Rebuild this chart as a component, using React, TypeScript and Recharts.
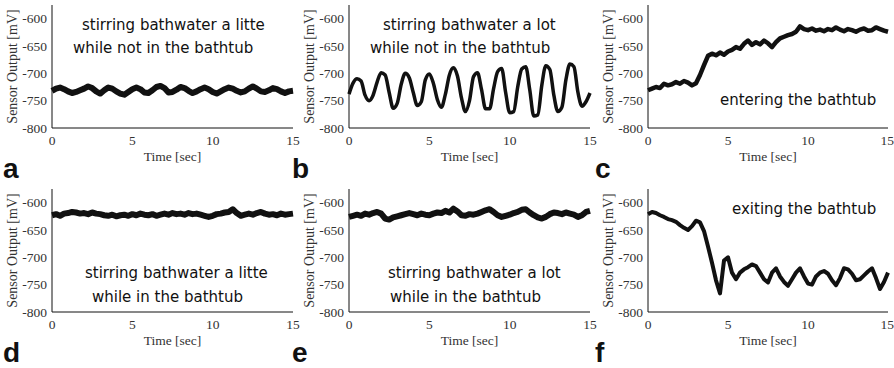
import React from 'react';
import { LineChart, Line, XAxis, YAxis } from 'recharts';

const TIME = [
  0, 0.25, 0.5, 0.75, 1, 1.25, 1.5, 1.75, 2, 2.25, 2.5, 2.75, 3, 3.25, 3.5, 3.75,
  4, 4.25, 4.5, 4.75, 5, 5.25, 5.5, 5.75, 6, 6.25, 6.5, 6.75, 7, 7.25, 7.5, 7.75,
  8, 8.25, 8.5, 8.75, 9, 9.25, 9.5, 9.75, 10, 10.25, 10.5, 10.75, 11, 11.25, 11.5, 11.75,
  12, 12.25, 12.5, 12.75, 13, 13.25, 13.5, 13.75, 14, 14.25, 14.5, 14.75, 15,
];

// a: stirring a little, not in the bathtub
const VALUES_A = [
  -732, -728, -726, -729, -733, -736, -734, -731, -728, -724, -727, -733, -737, -731, -726, -728,
  -733, -737, -739, -734, -729, -726, -729, -735, -736, -731, -725, -723, -727, -735, -734, -730,
  -725, -727, -732, -736, -733, -729, -726, -729, -734, -737, -733, -729, -726, -728, -732, -735,
  -733, -728, -724, -728, -733, -734, -731, -727, -729, -733, -736, -733, -732,
];

// b: stirring a lot, not in the bathtub
const VALUES_B = [
  -738, -718, -710, -714, -740, -750, -740, -716, -699, -703, -735, -764, -755, -720, -700, -708,
  -735, -759, -752, -712, -701, -718, -748, -762, -738, -703, -690, -705, -745, -770, -750, -706,
  -699, -730, -765, -765, -728, -697, -691, -735, -772, -770, -725, -692, -688, -730, -778, -776,
  -722, -686, -693, -740, -770, -762, -712, -683, -688, -735, -760, -752, -736,
];

// c: entering the bathtub
const VALUES_C = [
  -731, -728, -725, -727, -719, -722, -720, -716, -719, -714, -717, -722, -718, -703, -685, -668,
  -664, -667, -662, -666, -660, -657, -652, -655, -646, -640, -648, -643, -647, -640, -645, -652,
  -643, -636, -633, -630, -628, -624, -614, -619, -621, -618, -622, -620, -623, -619, -621, -616,
  -620, -623, -619, -621, -624, -620, -618, -622, -621, -616, -619, -622, -624,
];

// d: stirring a little, in the bathtub
const VALUES_D = [
  -623, -621, -624, -620, -619, -617, -618, -620, -619, -621, -618, -620, -621, -623, -624, -622,
  -625, -623, -622, -624, -621, -623, -620, -622, -623, -621, -624, -622, -620, -622, -619, -621,
  -620, -622, -619, -621, -620, -622, -624, -626, -624, -621, -620, -618, -617, -612, -619, -624,
  -622, -620, -622, -619, -617, -620, -622, -621, -623, -620, -622, -621, -620,
];

// e: stirring a lot, in the bathtub
const VALUES_E = [
  -626, -624, -622, -624, -620, -622, -619, -617, -620, -629, -631, -627, -625, -623, -621, -619,
  -621, -623, -620, -622, -623, -620, -618, -619, -615, -618, -611, -616, -623, -624, -621, -622,
  -620, -617, -614, -612, -617, -623, -626, -624, -622, -619, -617, -613, -612, -618, -623, -627,
  -629, -626, -621, -618, -619, -621, -618, -620, -622, -626, -623, -617, -615,
];

// f: exiting the bathtub
const VALUES_F = [
  -621, -617, -619, -623, -626, -630, -632, -635, -641, -646, -650, -643, -633, -636, -652, -680,
  -710, -742, -766, -706, -700, -728, -740, -728, -722, -718, -713, -716, -728, -740, -746, -728,
  -720, -735, -745, -752, -740, -728, -720, -735, -748, -750, -735, -728, -725, -730, -742, -751,
  -738, -720, -722, -730, -742, -740, -733, -726, -720, -738, -758, -745, -728,
];

const X_TICKS = [0, 5, 10, 15];
const Y_TICKS = [-800, -750, -700, -650, -600];
const Y_DOMAIN: [number, number] = [-800, -575];

const X_TITLE = 'Time [sec]';
const Y_TITLE = 'Sensor Output [mV]';

const SERIF = '"Liberation Serif", "Times New Roman", serif';
const SANS = '"DejaVu Sans", sans-serif';
const LETTER_FONT = '"Liberation Sans", Arial, sans-serif';

type PanelProps = {
  left: number;
  top: number;
  width: number;
  right: number;
  values: number[];
  strokeWidth: number;
  smooth?: boolean;
};

function Panel({ left, top, width, right, values, strokeWidth, smooth }: PanelProps) {
  const data = TIME.map((t, i) => ({ t, v: values[i] }));
  const tickStyle = { fill: '#333', fontSize: 13.5, fontFamily: SERIF };
  return (
    <div style={{ position: 'absolute', left, top }}>
      <LineChart
        width={width}
        height={184}
        data={data}
        margin={{ top: 5, right, bottom: 26, left: 12 }}
      >
        <XAxis
          dataKey="t"
          type="number"
          domain={[0, 15]}
          ticks={X_TICKS}
          tickSize={0}
          tickMargin={7}
          axisLine={{ stroke: '#111' }}
          tickLine={false}
          tick={tickStyle}
          label={{
            value: X_TITLE,
            position: 'insideBottom',
            offset: -3,
            fill: '#333',
            style: { fontSize: 13.5, fontFamily: SERIF },
          }}
        />
        <XAxis
          xAxisId="top"
          orientation="top"
          type="number"
          domain={[0, 15]}
          height={0}
          tick={false}
          tickLine={false}
          axisLine={{ stroke: '#111' }}
        />
        <YAxis
          type="number"
          domain={Y_DOMAIN}
          ticks={Y_TICKS}
          width={40}
          tickSize={0}
          tickMargin={5}
          axisLine={{ stroke: '#111' }}
          tickLine={false}
          tick={tickStyle}
          label={{
            value: Y_TITLE,
            angle: -90,
            position: 'insideLeft',
            offset: 0,
            fill: '#333',
            style: { textAnchor: 'middle', fontSize: 14, fontFamily: SERIF },
          }}
        />
        <YAxis
          yAxisId="r"
          orientation="right"
          type="number"
          domain={Y_DOMAIN}
          width={0}
          tick={false}
          tickLine={false}
          axisLine={{ stroke: '#111' }}
        />
        <Line
          dataKey="v"
          type={smooth ? 'monotone' : 'linear'}
          stroke="#111"
          strokeWidth={strokeWidth}
          strokeLinejoin="round"
          dot={false}
          isAnimationActive={false}
        />
      </LineChart>
    </div>
  );
}

const NOTES = [
  { text: 'stirring bathwater a litte', x: 82, y: 25 },
  { text: 'while not in the bathtub', x: 73, y: 48 },
  { text: 'stirring bathwater a lot', x: 383, y: 25 },
  { text: 'while not in the bathtub', x: 370, y: 48 },
  { text: 'entering the bathtub', x: 720, y: 100 },
  { text: 'stirring bathwater a litte', x: 85, y: 273 },
  { text: 'while in the bathtub', x: 92, y: 297 },
  { text: 'stirring bathwater a lot', x: 388, y: 273 },
  { text: 'while in the bathtub', x: 390, y: 297 },
  { text: 'exiting the bathtub', x: 732, y: 209 },
];

const LETTERS = [
  { text: 'a', x: 3, y: 178 },
  { text: 'b', x: 292, y: 178 },
  { text: 'c', x: 595, y: 178 },
  { text: 'd', x: 3, y: 362 },
  { text: 'e', x: 292, y: 362 },
  { text: 'f', x: 595, y: 362 },
];

export default function App() {
  return (
    <div
      style={{
        position: 'absolute',
        left: 0,
        top: 0,
        width: 894,
        height: 368,
        background: '#fff',
        overflow: 'hidden',
      }}
    >
      <Panel left={0} top={0} width={300} right={7} values={VALUES_A} strokeWidth={6} />
      <Panel left={297} top={0} width={300} right={7} values={VALUES_B} strokeWidth={3.5} smooth />
      <Panel left={596} top={0} width={298} right={6} values={VALUES_C} strokeWidth={4.5} />
      <Panel left={0} top={184} width={300} right={7} values={VALUES_D} strokeWidth={6} />
      <Panel left={297} top={184} width={300} right={7} values={VALUES_E} strokeWidth={6} />
      <Panel left={596} top={184} width={298} right={6} values={VALUES_F} strokeWidth={4} />
      <svg
        width={894}
        height={368}
        style={{ position: 'absolute', left: 0, top: 0, pointerEvents: 'none' }}
      >
        {NOTES.map((n, i) => (
          <text
            key={i}
            x={n.x}
            y={n.y}
            dominantBaseline="central"
            fontFamily={SANS}
            fontSize={15}
            fill="#111"
          >
            {n.text}
          </text>
        ))}
        {LETTERS.map((l, i) => (
          <text key={'l' + i} x={l.x} y={l.y} fontFamily={LETTER_FONT} fontWeight="bold" fontSize={28} fill="#111">
            {l.text}
          </text>
        ))}
      </svg>
    </div>
  );
}
